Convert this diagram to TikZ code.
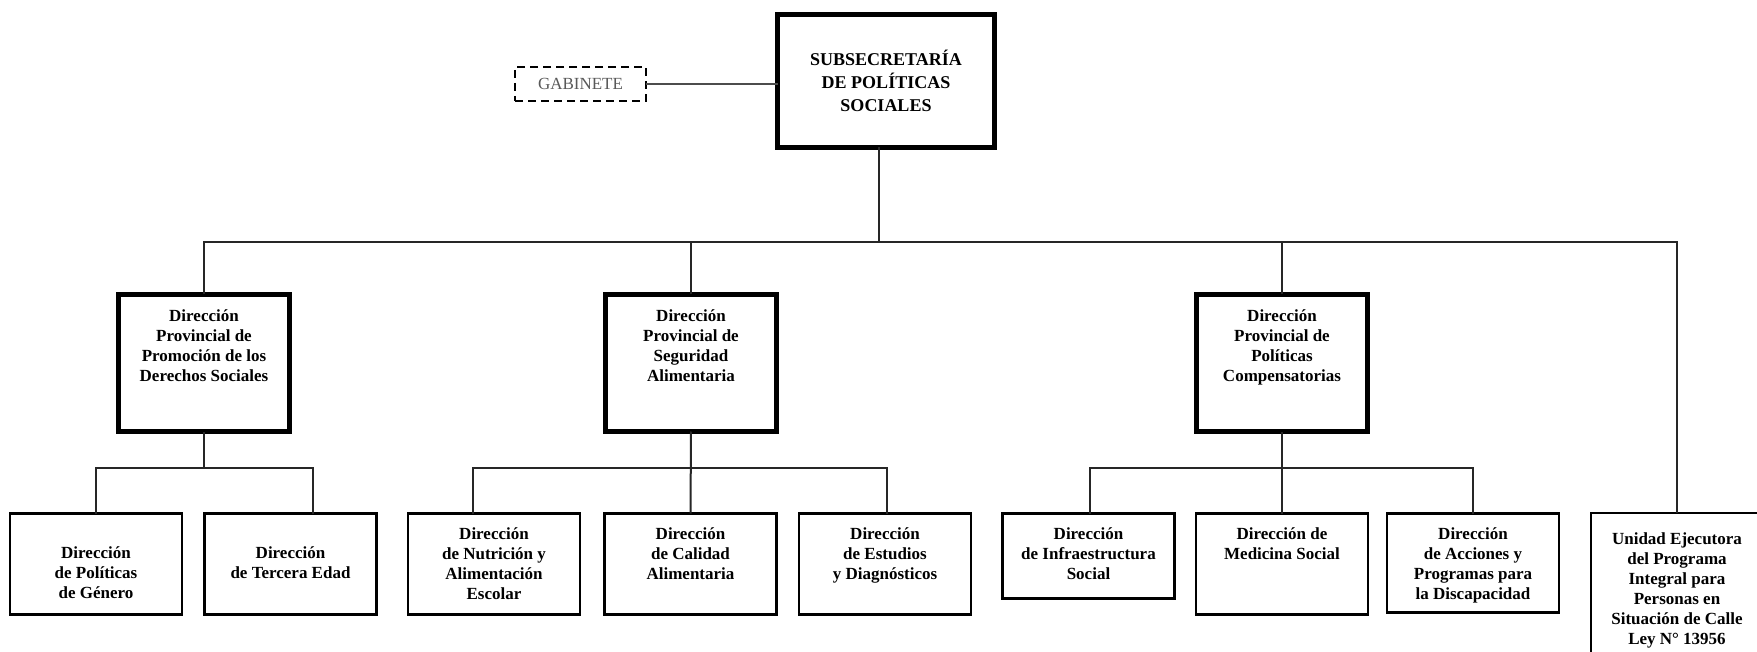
\documentclass[tikz,border=0pt]{standalone}
\usepackage{fontspec}
\setmainfont{Liberation Serif}
\usepackage{tikz}
\usetikzlibrary{arrows,shapes}
\tikzstyle{mainbox}=[draw,line width=5pt,minimum width=217pt,minimum height=133pt,outer sep=0pt,align=center,font=\bfseries\fontsize{18}{23}\selectfont]
\tikzstyle{gabbox}=[draw,dashed,dash pattern=on 8pt off 5pt,line width=1.5pt,minimum width=131pt,minimum height=34pt,outer sep=0pt,text=black!65,font=\fontsize{17}{20}\selectfont]
\tikzstyle{provbox}=[draw,line width=5pt,minimum width=171pt,minimum height=137pt,outer sep=0pt]
\tikzstyle{dirbox}=[draw,line width=2.5pt,minimum width=172pt,minimum height=101pt,outer sep=0pt]
\tikzstyle{boxtext}=[anchor=north,align=center,inner sep=0pt,font=\bfseries\fontsize{17}{20}\selectfont]
\tikzstyle{link} = [draw,line width=2pt,black!85,-]

\begin{document}
\begin{tikzpicture}[x=1pt,y=-1pt]
        \useasboundingbox (0,0) rectangle (1757,652);
        \node[mainbox] (sub) at (886,81) {SUBSECRETARÍA\\DE POLÍTICAS\\SOCIALES};
        \node[gabbox] (gab) at (580.5,84) {GABINETE};
        \node[provbox,label={[boxtext,yshift=-14.5pt]north:{Dirección\\Provincial de\\Promoción de los\\Derechos Sociales}}] (dp1) at (204,363) {};
        \node[provbox,label={[boxtext,yshift=-14.5pt]north:{Dirección\\Provincial de\\Seguridad\\Alimentaria}}] (dp2) at (691,363) {};
        \node[provbox,label={[boxtext,yshift=-14.5pt]north:{Dirección\\Provincial de\\Políticas\\Compensatorias}}] (dp3) at (1282,363) {};
        \node[dirbox,label={[boxtext,yshift=-33pt]north:{Dirección\\de Políticas\\de Género}}] (l1a) at (96,564) {};
        \node[dirbox,label={[boxtext,yshift=-33pt]north:{Dirección\\de Tercera Edad}}] (l1b) at (290.5,564) {};
        \node[dirbox,label={[boxtext,yshift=-14pt]north:{Dirección\\de Nutrición y\\Alimentación\\Escolar}}] (l2a) at (494,564) {};
        \node[dirbox,label={[boxtext,yshift=-14pt]north:{Dirección\\de Calidad\\Alimentaria}}] (l2b) at (690.5,564) {};
        \node[dirbox,label={[boxtext,yshift=-14pt]north:{Dirección\\de Estudios\\y Diagnósticos}}] (l2c) at (885,564) {};
        \node[dirbox,minimum height=85pt,label={[boxtext,yshift=-14pt]north:{Dirección\\de Infraestructura\\Social}}] (l3a) at (1088.5,556) {};
        \node[dirbox,label={[boxtext,yshift=-14pt]north:{Dirección de\\Medicina Social}}] (l3b) at (1282,564) {};
        \node[dirbox,minimum height=99pt,label={[boxtext,yshift=-14pt]north:{Dirección\\de Acciones y\\Programas para\\la Discapacidad}}] (l3c) at (1473,563) {};
        \node[dirbox,minimum height=220pt,label={[boxtext,yshift=-20pt]north:{Unidad Ejecutora\\del Programa\\Integral para\\Personas en\\Situación de Calle\\Ley N° 13956}}] (uni) at (1677,623) {};
        \coordinate (top) at (879,242);
        \coordinate (b1) at (204,468);
        \coordinate (b2) at (691,468);
        \coordinate (b3) at (1282,468);
        \draw[link,black!70] (gab.east) -- (gab.east -| sub.west);
        \draw[link] ([xshift=-7pt]sub.south) -- (top);
        \draw[link] (dp1.north) |- (top) -| (uni.north);
        \draw[link] (dp2.north) -- (dp2.north |- top);
        \draw[link] (dp3.north) -- (dp3.north |- top);
        \draw[link] (dp1.south) -- (b1);
        \draw[link] (l1a.north) |- (b1) -| ([xshift=22.5pt]l1b.north);
        \draw[link] (dp2.south) -- (l2b.north);
        \draw[link] ([xshift=-21pt]l2a.north) |- (b2) -| ([xshift=2pt]l2c.north);
        \draw[link] (dp3.south) -- (l3b.north);
        \draw[link] ([xshift=1.5pt]l3a.north) |- (b3) -| (l3c.north);
      \end{tikzpicture}
\end{document}
